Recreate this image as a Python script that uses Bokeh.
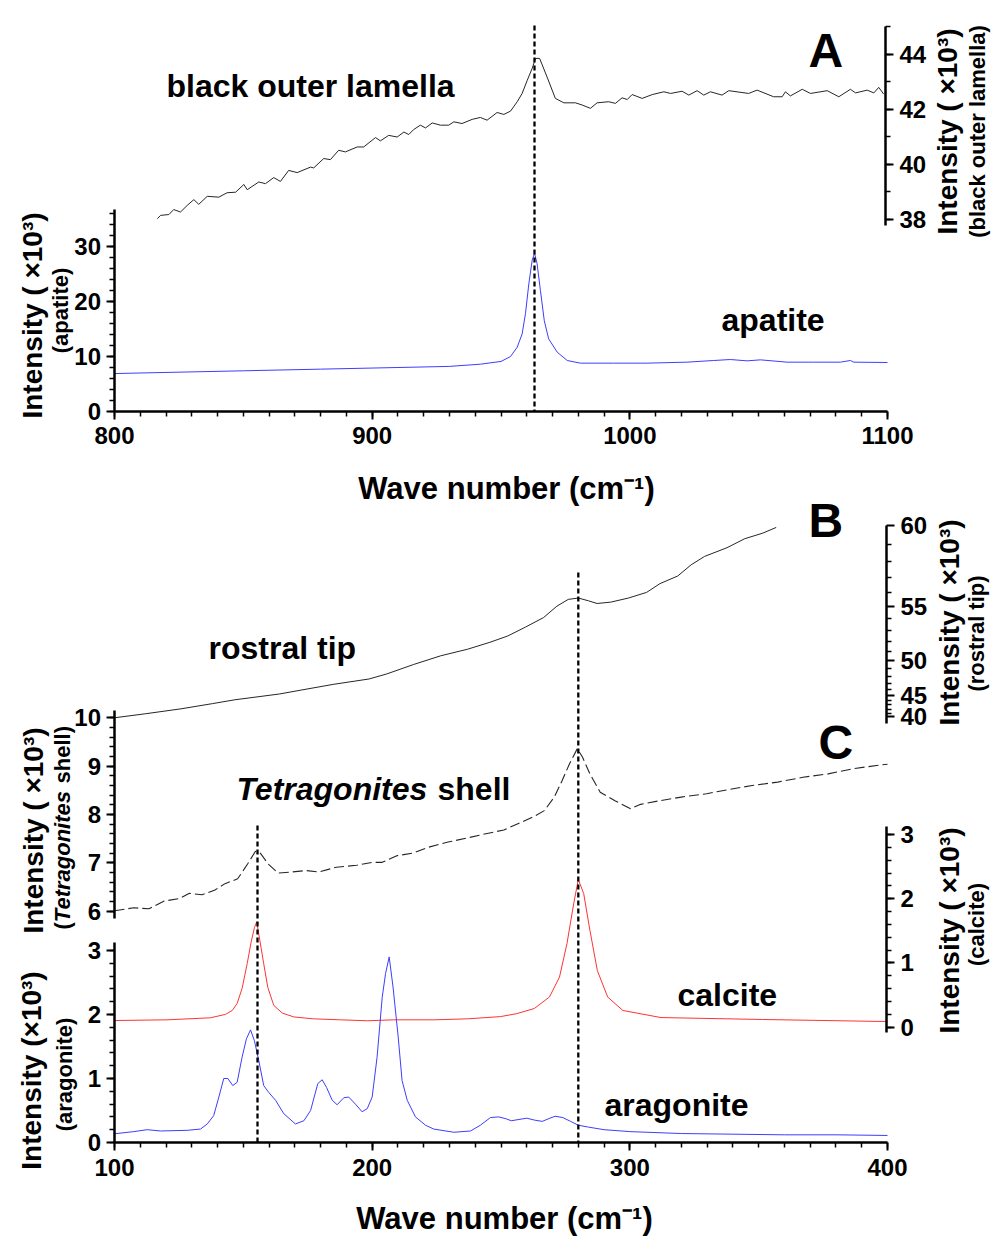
import math
import numpy as np
from bokeh.plotting import figure
from bokeh.models import (Range1d, LinearAxis, SingleIntervalTicker, FixedTicker,
                          CustomJSTickFormatter, Label)
from bokeh.embed import file_html
from bokeh.resources import INLINE

# ======================= DATA (intensities in x10^3 counts) =======================
# ---- Panel A : 800-1100 cm-1 ----
lamella_wn = [816.6, 817.9, 821.1, 823.0, 825.6, 828.2, 830.8, 832.7, 836.0, 840.5, 843.7, 847.0,
              850.2, 851.5, 856.0, 858.6, 861.8, 864.4, 867.6, 870.9, 876.1, 877.3, 881.2, 883.8,
              887.0, 889.6, 894.2, 896.7, 901.3, 903.2, 906.4, 909.7, 912.3, 914.2, 916.1, 918.7,
              920.7, 923.3, 926.5, 929.7, 931.7, 934.9, 938.8, 942.0, 944.6, 948.5, 951.1, 953.7,
              956.3, 958.2, 960.2, 962.1, 963.4, 965.0, 967.9, 971.1, 974.4, 978.9, 981.5, 984.7,
              987.3, 991.8, 994.4, 997.0, 999.0, 1000.9, 1004.8, 1008.7, 1013.2, 1015.8, 1020.3,
              1022.9, 1026.1, 1028.7, 1031.3, 1035.8, 1038.4, 1046.1, 1049.4, 1055.8, 1059.1,
              1060.4, 1062.3, 1066.9, 1070.1, 1076.6, 1081.1, 1085.6, 1087.6, 1092.1, 1094.7,
              1096.6, 1098.5]
lamella_int = [38.03, 38.15, 38.18, 38.36, 38.27, 38.51, 38.72, 38.55, 38.84, 38.81, 38.97, 38.99,
               39.27, 39.08, 39.36, 39.30, 39.52, 39.38, 39.78, 39.70, 39.90, 39.87, 40.21, 40.17,
               40.51, 40.45, 40.63, 40.63, 40.97, 40.85, 41.05, 40.99, 41.17, 41.08, 41.26, 41.42,
               41.32, 41.50, 41.42, 41.42, 41.54, 41.48, 41.63, 41.70, 41.60, 41.88, 41.81, 41.93,
               42.27, 42.57, 43.05, 43.48, 43.84, 43.84, 43.16, 42.39, 42.23, 42.23, 42.15, 42.03,
               42.23, 42.27, 42.21, 42.41, 42.35, 42.53, 42.39, 42.53, 42.63, 42.57, 42.65,
               42.51, 42.67, 42.51, 42.63, 42.51, 42.67, 42.57, 42.69, 42.45, 42.45,
               42.63, 42.48, 42.72, 42.57, 42.67, 42.45, 42.72, 42.59, 42.69, 42.59,
               42.79, 42.55]

apatite_wn = [800, 820, 850, 880, 910, 930, 942, 950, 953.7, 956.3, 958.2, 959.5, 960.8, 962.1,
              963.0, 964.0, 965.3, 966.8, 968.5, 971.8, 975.7, 980.8, 993.7, 1006.7, 1022.2,
              1032.5, 1039.0, 1045.5, 1050.7, 1061.0, 1071.4, 1081.7, 1085.6, 1086.9, 1100]
apatite_int = [6.9, 7.1, 7.4, 7.7, 8.0, 8.2, 8.6, 9.1, 10.0, 11.7, 14.1, 17.8, 23.2, 27.5,
               28.8, 26.9, 22.0, 16.5, 13.2, 10.8, 9.27, 8.79, 8.79, 8.79, 8.97,
               9.27, 9.45, 9.21, 9.39, 8.97, 8.97, 8.97, 9.27, 8.97, 8.91]
peak_A = [963.0]

# ---- Panels B / C : 100-400 cm-1 ----
rostral_wn = [100, 111.95, 125.8, 138.0, 146.7, 164.0, 172.7, 184.9, 198.8, 205.7, 216.1, 226.6,
              237.0, 245.7, 252.6, 259.5, 266.5, 271.7, 276.1, 280.0, 283.9, 287.3, 292.6, 299.5,
              306.5, 311.7, 318.6, 323.8, 329.0, 337.7, 344.6, 351.6, 356.8]
rostral_int = [39.6, 40.8, 42.1, 43.3, 44.1, 45.2, 45.9, 46.8, 47.6, 48.3, 49.5, 50.5,
               51.2, 51.9, 52.5, 53.3, 54.1, 55.0, 55.5, 55.6, 55.4, 55.2, 55.3, 55.6,
               56.0, 56.6, 57.1, 57.8, 58.3, 58.8, 59.3, 59.6, 59.9]

tetra_wn = [100, 107.5, 113.4, 119.3, 125.2, 129.1, 134.0, 139.0, 142.9, 147.8, 151.7, 154.7,
            156.6, 159.6, 163.5, 168.4, 174.4, 179.3, 186.1, 194.0, 199.9, 203.9, 209.8, 215.7,
            221.6, 229.5, 237.3, 243.2, 251.1, 257.0, 262.9, 266.8, 270.7, 273.7, 276.6, 279.6,
            281.6, 284.5, 288.5, 294.4, 300.3, 304.2, 312.1, 319.9, 329.8, 337.7, 347.5, 357.4,
            367.2, 377.0, 386.9, 396.7, 400]
tetra_int = [6.01, 6.07, 6.05, 6.21, 6.26, 6.37, 6.34, 6.44, 6.57, 6.67, 6.98, 7.24,
             7.20, 6.98, 6.79, 6.81, 6.84, 6.81, 6.91, 6.95, 7.01, 7.01, 7.15, 7.20,
             7.32, 7.43, 7.52, 7.59, 7.68, 7.82, 7.96, 8.08, 8.36, 8.70, 9.05, 9.36,
             9.19, 8.84, 8.46, 8.28, 8.12, 8.21, 8.29, 8.36, 8.43, 8.51, 8.60, 8.67,
             8.77, 8.84, 8.95, 9.02, 9.04]

calcite_wn = [100, 120.4, 137.2, 143.1, 145.7, 147.6, 149.5, 151.5, 153.0, 154.3, 155.2, 156.0,
              157.9, 159.5, 161.8, 165.1, 169.6, 177.3, 187.7, 198.1, 208.4, 223.9, 236.9, 249.8,
              256.0, 262.9, 268.8, 272.7, 275.6, 278.2, 280.0, 282.1, 284.5, 287.4, 291.4, 297.3,
              312.1, 351.5, 396.7, 400]
calcite_int = [0.104, 0.115, 0.146, 0.20, 0.26, 0.37, 0.60, 0.99, 1.32, 1.55, 1.64, 1.45,
               0.99, 0.62, 0.34, 0.22, 0.16, 0.13, 0.115, 0.10, 0.115, 0.115, 0.13, 0.165,
               0.21, 0.29, 0.47, 0.78, 1.30, 1.92, 2.30, 2.08, 1.51, 0.88, 0.47, 0.26,
               0.15, 0.12, 0.09, 0.09]

arag_wn = [100, 107.5, 112.7, 117.8, 128.2, 133.4, 136.0, 138.5, 140.5, 142.4, 144.0, 145.9,
           147.6, 149.5, 151.2, 152.8, 154.3, 156.0, 157.9, 159.9, 162.5, 165.7, 170.2, 173.5,
           176.1, 178.9, 180.6, 182.3, 184.5, 186.4, 189.0, 190.9, 193.5, 196.1, 198.1, 200.0,
           201.9, 203.9, 205.2, 206.6, 208.1, 210.1, 211.6, 213.6, 216.8, 220.7, 223.9, 231.7,
           238.2, 242.0, 245.9, 249.1, 252, 254, 257, 260, 263, 266, 269, 271, 274, 277, 280,
           284, 290, 300, 320, 340, 360, 380, 400]
arag_int = [0.136, 0.17, 0.20, 0.18, 0.19, 0.21, 0.29, 0.42, 0.71, 1.0, 1.0, 0.89,
            0.94, 1.33, 1.62, 1.76, 1.59, 1.28, 0.89, 0.78, 0.66, 0.45, 0.29, 0.34,
            0.50, 0.92, 0.98, 0.86, 0.66, 0.59, 0.70, 0.71, 0.60, 0.48, 0.53, 0.71,
            1.33, 2.27, 2.64, 2.90, 2.43, 1.65, 0.97, 0.66, 0.40, 0.27, 0.21, 0.16,
            0.18, 0.27, 0.39, 0.40, 0.37, 0.34, 0.36, 0.38, 0.35, 0.33, 0.38, 0.41, 0.39, 0.33, 0.27,
            0.24, 0.20, 0.17, 0.14, 0.13, 0.12, 0.12, 0.11]
peaks_BC = [155.5, 280.0]

# tick values
xticks_A = [800, 900, 1000, 1100]
xticks_BC = [100, 200, 300, 400]
rostral_major = [40, 45, 50, 55, 60]
rostral_minor = [v for v in range(40, 61) if v % 5 != 0]

# ======================= LAYOUT (reference pixel frame) =======================
W, H = 992, 1236
OX, OY = 0, 0            # reference-pixel position of the canvas' top-left corner
FONT = "Liberation Sans"

# rostral-tip axis uses a power scale (as in the original)
R_MAX, R_POW = 60.0, 5.4
def rostral_scale(v):
    return (np.asarray(v, dtype=float) / R_MAX) ** R_POW


def cal_range(v0, p0, v1, p1, pa, pb):
    s = (v1 - v0) / (p1 - p0)
    return Range1d(start=float(v0 + (pa - p0) * s), end=float(v0 + (pb - p0) * s))

def xr(v0, p0, v1, p1):
    return cal_range(v0, p0, v1, p1, OX, OX + W)

def yr(v0, p0, v1, p1):
    return cal_range(v0, p0, v1, p1, OY + H, OY)


p = figure(width=W, height=H, x_range=Range1d(OX, OX + W), y_range=Range1d(OY + H, OY),
           x_axis_type=None, y_axis_type=None, toolbar_location=None, title=None,
           output_backend="svg", min_border=0)
p.outline_line_color = None
p.background_fill_color = "white"
p.border_fill_color = "white"

p.extra_x_ranges = {
    "wnA": xr(800, 114, 1100, 887),
    "wnB": xr(100, 114, 400, 887),
}
p.extra_y_ranges = {
    "apatite": yr(0, 411, 30, 246),
    "lamella": yr(38, 219, 44, 53.5),
    "rostral": yr(float(rostral_scale(40)), 716, 1.0, 525),
    "tetra": yr(6, 910.7, 10, 717.3),
    "calcite": yr(0, 1026.7, 3, 834),
    "arag": yr(0, 1142, 3, 950),
}


def add_axis(side, rng, loc, bounds, ticker, horizontal=False, formatter=None, standoff=5):
    kw = dict(fixed_location=loc, bounds=bounds, ticker=ticker, axis_label=None,
              axis_line_width=2.5, axis_line_color="black",
              major_tick_line_width=2, minor_tick_line_width=1.5,
              major_tick_line_color="black", minor_tick_line_color="black",
              major_tick_in=0, major_tick_out=8, minor_tick_in=0, minor_tick_out=5,
              major_label_text_font=FONT, major_label_text_font_style="bold",
              major_label_text_font_size="24px", major_label_text_color="black",
              major_label_standoff=standoff)
    if horizontal:
        kw["x_range_name"] = rng
    else:
        kw["y_range_name"] = rng
    if formatter is not None:
        kw["formatter"] = formatter
    p.add_layout(LinearAxis(**kw), side)


# ---- axes panel A ----
add_axis("below", "wnA", 410.5, (xticks_A[0], xticks_A[-1]),
         SingleIntervalTicker(interval=100, num_minor_ticks=10), horizontal=True, standoff=8)
add_axis("left", "apatite", 113.5, (0, 36.7), SingleIntervalTicker(interval=10, num_minor_ticks=5))
add_axis("right", "lamella", 885, (37.8, 45), SingleIntervalTicker(interval=2, num_minor_ticks=2),
         standoff=6)

# ---- axes panels B / C ----
add_axis("below", "wnB", 1142, (xticks_BC[0], xticks_BC[-1]),
         SingleIntervalTicker(interval=100, num_minor_ticks=10), horizontal=True, standoff=8)
add_axis("left", "tetra", 113.5, (5.84, 10.15), SingleIntervalTicker(interval=1, num_minor_ticks=5))
add_axis("left", "arag", 113.5, (0, 3.13), SingleIntervalTicker(interval=1, num_minor_ticks=5))
add_axis("right", "calcite", 886, (-0.09, 3.12), SingleIntervalTicker(interval=1, num_minor_ticks=5),
         standoff=6)
add_axis("right", "rostral", 886, (0.0795, 1.0),
         FixedTicker(ticks=[float(t) for t in rostral_scale(rostral_major)],
                     minor_ticks=[float(t) for t in rostral_scale(rostral_minor)]),
         formatter=CustomJSTickFormatter(args=dict(vmax=R_MAX, pw=R_POW),
                                         code="return Math.round(vmax*Math.pow(tick, 1/pw)).toFixed(0);"),
         standoff=6)

# ======================= CURVES =======================
BLUE, RED, DARK = "#3d3dff", "#ff3333", "#262626"
p.line(lamella_wn, lamella_int, x_range_name="wnA", y_range_name="lamella", line_color=DARK, line_width=1)
p.line(apatite_wn, apatite_int, x_range_name="wnA", y_range_name="apatite", line_color=BLUE, line_width=1)
p.line(rostral_wn, rostral_scale(rostral_int), x_range_name="wnB", y_range_name="rostral",
       line_color=DARK, line_width=1)
p.line(tetra_wn, tetra_int, x_range_name="wnB", y_range_name="tetra", line_color=DARK,
       line_width=1.1, line_dash="10 4")
p.line(calcite_wn, calcite_int, x_range_name="wnB", y_range_name="calcite", line_color=RED, line_width=1)
p.line(arag_wn, arag_int, x_range_name="wnB", y_range_name="arag", line_color=BLUE, line_width=1)

# dashed peak markers
p.segment(x0=peak_A, y0=[25], x1=peak_A, y1=[410.5], x_range_name="wnA",
          line_color="black", line_width=2.3, line_dash="5 3")
p.segment(x0=peaks_BC, y0=[825, 572], x1=peaks_BC, y1=[1142, 1142], x_range_name="wnB",
          line_color="black", line_width=2.3, line_dash="5 3")


# ======================= TEXT =======================
def text(x, y_base, s, size_px, style="bold", align="left"):
    # anchored at the text's vertical middle; y_base is the wanted baseline row
    p.add_layout(Label(x=x, y=y_base - 0.35 * size_px, text=s, text_font=FONT,
                       text_font_size=f"{size_px}px", text_font_style=style,
                       text_align=align, text_baseline="middle", text_color="black"))

def vtext(x, y, s, size_px, style="bold", align="center"):
    p.add_layout(Label(x=x, y=y, text=s, text_font=FONT, text_font_size=f"{size_px}px",
                       text_font_style=style, angle=math.pi / 2, text_align=align,
                       text_baseline="middle", text_color="black"))

# curve names & panel letters
text(166, 97, "black outer lamella", 32)
text(721, 331, "apatite", 32)
text(208, 659, "rostral tip", 32)
text(236, 800, "Tetragonites", 32, style="bold italic")
text(437, 800, "shell", 32)
text(677, 1006, "calcite", 32)
text(604, 1116, "aragonite", 32)
text(808, 67, "A", 48)
text(808, 537, "B", 48)
text(818, 759, "C", 48)

# x-axis titles
text(506, 499, "Wave number (cm\u207b\u00b9)", 31, align="center")
text(504, 1229, "Wave number (cm\u207b\u00b9)", 31, align="center")

# y-axis titles
vtext(32, 315, "Intensity ( \u00d710\u00b3)", 28)
vtext(60, 310, "(apatite)", 22)
vtext(947, 131, "Intensity ( \u00d710\u00b3)", 28)
vtext(977, 131, "(black outer lamella)", 22)
vtext(949, 622, "Intensity ( \u00d710\u00b3)", 28)
vtext(976, 633, "(rostral tip)", 22)
vtext(33, 830, "Intensity ( \u00d710\u00b3)", 28)
vtext(62, 929, "(", 22, align="left")
vtext(62, 921.7, "Tetragonites", 22, style="bold italic", align="left")
vtext(62, 783, "shell)", 22, align="left")
vtext(949, 930, "Intensity ( \u00d710\u00b3)", 28)
vtext(976, 924, "(calcite)", 22)
vtext(31, 1070, "Intensity (\u00d710\u00b3)", 28)
vtext(64, 1074, "(aragonite)", 22)

open("out.html", "w").write(file_html(p, INLINE))
